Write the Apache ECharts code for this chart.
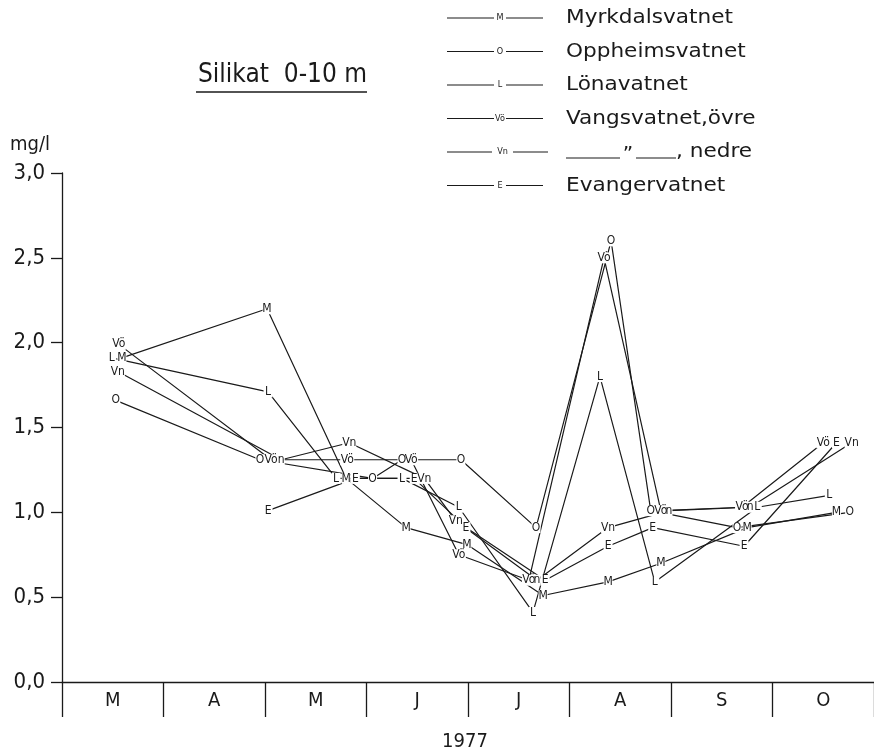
<!DOCTYPE html>
<html>
<head>
<meta charset="utf-8">
<script src="https://cdn.jsdelivr.net/npm/echarts@6/dist/echarts.min.js"></script>
<style>html,body{margin:0;padding:0;background:#fff;}#c{width:874px;height:753px;}</style>
</head>
<body>
<div id="c"></div>
<script>
// ---- data (x = months after 1 March 1977, y = mg/l) ----
const months = ['M', 'A', 'M', 'J', 'J', 'A', 'S', 'O'];
const yearLabel = '1977';
const titleText = 'Silikat  0-10 m';
const unitText = 'mg/l';

const seriesNames = ['Myrkdalsvatnet', 'Oppheimsvatnet', 'Lönavatnet', 'Vangsvatnet,övre', 'Vangsvatnet, nedre', 'Evangervatnet'];
const seriesCodes = ['M', 'O', 'L', 'Vö', 'Vn', 'E'];

const mDates  = [0.59, 2.02, 2.80, 3.39, 3.99, 4.74, 5.38, 5.90, 6.75, 7.63];
const mValues = [1.91, 2.20, 1.20, 0.91, 0.81, 0.51, 0.59, 0.70, 0.91, 1.00];
const oDates  = [0.53, 1.95, 3.06, 3.35, 3.93, 4.67, 5.41, 5.80, 6.65, 7.76];
const oValues = [1.66, 1.31, 1.20, 1.31, 1.31, 0.91, 2.60, 1.01, 0.91, 1.00];
const lDates  = [0.49, 2.03, 2.70, 3.35, 3.91, 4.64, 5.30, 5.84, 6.85, 7.56];
const lValues = [1.91, 1.71, 1.20, 1.20, 1.03, 0.41, 1.80, 0.59, 1.03, 1.10];
const voDates  = [0.56, 2.06, 2.81, 3.44, 3.91, 4.60, 5.34, 5.90, 6.70, 7.50];
const voValues = [1.99, 1.31, 1.31, 1.31, 0.75, 0.60, 2.50, 1.01, 1.03, 1.41];
const vnDates  = [0.55, 2.16, 2.83, 3.57, 3.88, 4.68, 5.38, 5.98, 6.78, 7.78];
const vnValues = [1.83, 1.31, 1.41, 1.20, 0.95, 0.60, 0.91, 1.01, 1.03, 1.41];
const eDates  = [2.03, 2.89, 3.47, 3.98, 4.76, 5.38, 5.82, 6.72, 7.63];
const eValues = [1.01, 1.20, 1.20, 0.91, 0.60, 0.80, 0.91, 0.80, 1.41];
// points where the Vn mark is written as a suffix "n" after "Vö"
const vnShortIdx = [1, 5, 7, 8];

// ---- chart ----
const CF = "'DejaVu Sans Condensed', 'Liberation Sans Narrow', 'DejaVu Sans', sans-serif";
const PF = "'DejaVu Sans', sans-serif";
const INK = '#1a1a1a';

const allDates = [mDates, oDates, lDates, voDates, vnDates, eDates];
const allValues = [mValues, oValues, lValues, voValues, vnValues, eValues];

function zip(xs, ys) { return xs.map((x, i) => [x, ys[i]]); }

const series = seriesCodes.map((code, s) => {
  const isVn = code === 'Vn';
  return {
    type: 'line',
    name: seriesNames[s],
    data: zip(allDates[s], allValues[s]),
    xAxisIndex: 0,
    yAxisIndex: 0,
    lineStyle: { color: INK, width: 1.2 },
    itemStyle: { color: '#fff', borderWidth: 0 },
    symbol: 'rect',
    symbolSize: function (v, p) {
      if (isVn && vnShortIdx.includes(p.dataIndex)) return [7, 11];
      return code.length > 1 ? [14, 11] : [9, 11];
    },
    showAllSymbol: true,
    label: {
      show: true,
      position: 'inside',
      color: INK,
      fontFamily: CF,
      fontSize: 12,
      formatter: function (p) {
        if (isVn && vnShortIdx.includes(p.dataIndex)) return 'n';
        return code;
      }
    },
    emphasis: { disabled: true },
    silent: true
  };
});

// legend drawn as graphic
const legendEls = [];
const legX0 = 447, legX1 = 494, legX2 = 506, legX3 = 543, legText = 566;
const legStretch = 1.08;
seriesCodes.forEach((code, i) => {
  const y = 18 + 33.5 * i;
  const isVn = code === 'Vn';
  const x1 = isVn ? 492 : legX1, x2 = isVn ? 513 : legX2, x3 = isVn ? 548 : legX3;
  legendEls.push({ type: 'line', shape: { x1: legX0, y1: y, x2: x1, y2: y }, style: { stroke: INK, lineWidth: 1.1 } });
  legendEls.push({ type: 'text', x: (x1 + x2) / 2, y: y, style: { text: code, font: '9px ' + CF, fill: INK, align: 'center', verticalAlign: 'middle' } });
  legendEls.push({ type: 'line', shape: { x1: x2, y1: y, x2: x3, y2: y }, style: { stroke: INK, lineWidth: 1.1 } });
  if (isVn) {
    legendEls.push({ type: 'line', shape: { x1: 566, y1: y + 6, x2: 620, y2: y + 6 }, style: { stroke: INK, lineWidth: 1.1 } });
    legendEls.push({ type: 'text', x: 628, y: y + 3, style: { text: '\u201D', font: '20px ' + PF, fill: INK, align: 'center', verticalAlign: 'middle' } });
    legendEls.push({ type: 'line', shape: { x1: 636, y1: y + 6, x2: 676, y2: y + 6 }, style: { stroke: INK, lineWidth: 1.1 } });
    legendEls.push({ type: 'text', x: 676, y: y, scaleX: legStretch, style: { text: ', nedre', font: '20px ' + PF, fill: INK, align: 'left', verticalAlign: 'middle' } });
  } else {
    legendEls.push({ type: 'text', x: legText, y: y, scaleX: legStretch, style: { text: seriesNames[i], font: '20px ' + PF, fill: INK, align: 'left', verticalAlign: 'middle' } });
  }
});

const option = {
  animation: false,
  backgroundColor: '#fff',
  grid: { left: 62, top: 173, width: 816, height: 509, containLabel: false },
  xAxis: [
    {
      type: 'value', min: 0, max: 8, interval: 1, position: 'bottom',
      axisLine: { show: true, onZero: false, lineStyle: { color: INK, width: 1.3 } },
      axisTick: { show: true, inside: false, length: 35, lineStyle: { color: INK, width: 1.3 } },
      axisLabel: { show: false },
      splitLine: { show: false }
    },
    {
      type: 'category', data: months, position: 'bottom', boundaryGap: true,
      axisLine: { show: false }, axisTick: { show: false },
      axisLabel: { show: true, margin: 9, color: INK, fontFamily: CF, fontSize: 20 },
      splitLine: { show: false }
    }
  ],
  yAxis: [{
    type: 'value', min: 0, max: 3, interval: 0.5,
    axisLine: { show: true, lineStyle: { color: INK, width: 1.3 } },
    axisTick: { show: true, inside: false, length: 11, lineStyle: { color: INK, width: 1.3 } },
    axisLabel: { show: true, margin: 17, color: INK, fontFamily: CF, fontSize: 22,
      formatter: v => v.toFixed(1).replace('.', ',') },
    splitLine: { show: false }
  }],
  series: series,
  graphic: [
    { type: 'text', x: 198, y: 88, style: { text: titleText, font: '26px ' + CF, fill: INK, align: 'left', verticalAlign: 'bottom' } },
    { type: 'line', shape: { x1: 196, y1: 92, x2: 367, y2: 92 }, style: { stroke: INK, lineWidth: 1.5 } },
    { type: 'text', x: 10, y: 145, style: { text: unitText, font: '20px ' + CF, fill: INK, align: 'left', verticalAlign: 'middle' } },
    { type: 'text', x: 465, y: 742, style: { text: yearLabel, font: '20px ' + CF, fill: INK, align: 'center', verticalAlign: 'middle' } }
  ].concat(legendEls)
};

const chart = echarts.init(document.getElementById('c'), null, { renderer: 'canvas' });
chart.setOption(option);
</script>
</body>
</html>
